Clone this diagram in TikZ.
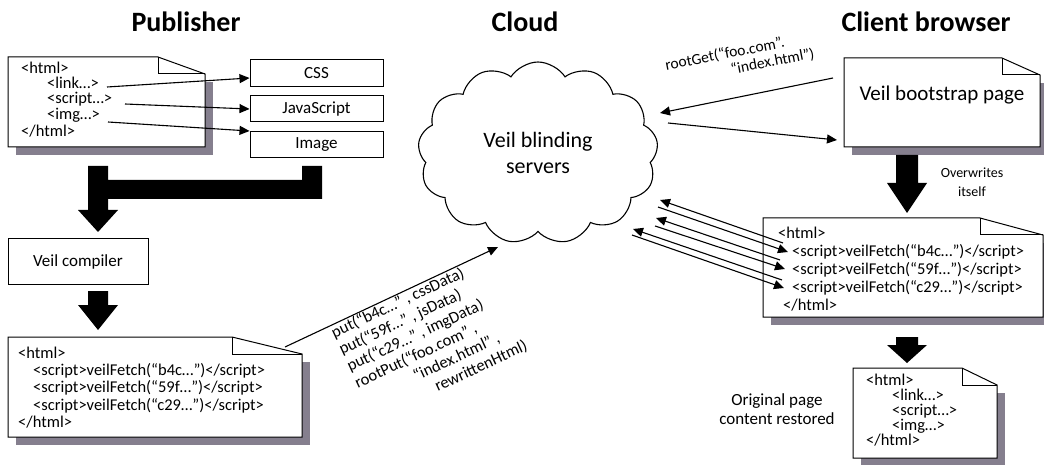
\documentclass[tikz,border=0pt]{standalone}
\usepackage{fontspec}
\setmainfont{Carlito}
\usetikzlibrary{arrows.meta,shapes.symbols}
\definecolor{shadowc}{HTML}{857F8E}
\tikzset{
  docline/.style={draw=black,line width=1pt},
  codetxt/.style={font=\fontsize{16.5}{19}\selectfont,inner sep=0pt,anchor=base west},
  boxtxt/.style={font=\fontsize{17}{20}\selectfont},
  titletxt/.style={font=\fontsize{28}{32}\selectfont\bfseries,inner sep=0pt,anchor=base},
  arr/.style={line width=1.1pt,-{Triangle[length=10pt,width=9pt]}},
  plainbox/.style={draw=black,line width=1pt,inner sep=0pt},
}
\newcommand\docpage[5]{%
  \fill[shadowc] (#1+8,#2+25) rectangle (#3+8,#4+8);
  \filldraw[docline,fill=white] (#1,#2) -- (#3-#5,#2) -- (#3,#2+17) -- (#3,#4) -- (#1,#4) -- cycle;
  \draw[docline] (#3-#5,#2) -- (#3-#5,#2+17) -- (#3,#2+17);
}
\newcommand\fatdown[5]{% xc, ytop, yhead, ytip, shaft half width
  \fill[black] (#1-#5,#2) -- (#1+#5,#2) -- (#1+#5,#3) -- (#1+20,#3) -- (#1,#4) -- (#1-20,#3) -- (#1-#5,#3) -- cycle;
}
\begin{document}
\begin{tikzpicture}[x=1pt,y=-1pt]
\useasboundingbox (0,0) rectangle (1044,465);

% titles
\node[titletxt] (tpub) at (186,32) {Publisher};
\node[titletxt] (tcloud) at (525,32) {Cloud};
\node[titletxt] (tclient) at (926,32) {Client browser};

% ---------- Publisher ----------
\docpage{8}{57}{205}{147}{47}
\node[codetxt] (h1) at (21,74) {<html>};
\node[codetxt] (l1) at (47,89) {<link…>};
\node[codetxt] (s1) at (47,104) {<script…>};
\node[codetxt] (i1) at (47,120) {<img…>};
\node[codetxt] (e1) at (21,137) {</html>};

\node[plainbox,minimum width=133pt,minimum height=27pt,boxtxt] (css) at (316.5,73) {CSS};
\node[plainbox,minimum width=133pt,minimum height=26pt,boxtxt] (js) at (316.5,109) {JavaScript};
\node[plainbox,minimum width=133pt,minimum height=26pt,boxtxt] (img) at (316.5,145) {Image};

\coordinate (l1e) at (107,87);
\coordinate (s1e) at (125,104);
\coordinate (i1e) at (108,122);
\draw[arr] (l1e) -- (css.west |- 0,78);
\draw[arr] (s1e) -- (js.west);
\draw[arr] (i1e) -- (img.west |- 0,131);

% fat U connector and arrow
\fill[black] (88,166) -- (108,166) -- (108,180) -- (302,180) -- (302,166) -- (322,166)
  -- (322,199) -- (108,199) -- (108,210) -- (118,210) -- (98,232) -- (78,210) -- (88,210) -- cycle;

\node[plainbox,minimum width=140pt,minimum height=45pt,boxtxt] (comp) at (78,261.5) {Veil compiler};
\fatdown{98}{291}{305}{330}{10}

\docpage{8}{337}{302}{437}{70}
\node[codetxt] (h2) at (18,358) {<html>};
\node[codetxt] (s2a) at (33,375) {<script>veilFetch(“b4c…”)</script>};
\node[codetxt] (s2b) at (33,392) {<script>veilFetch(“59f…”)</script>};
\node[codetxt] (s2c) at (33,410) {<script>veilFetch(“c29…”)</script>};
\node[codetxt] (e2) at (18,427) {</html>};

% ---------- Cloud ----------
\node[cloud,cloud puffs=13,cloud puff arc=115,aspect=1.3,draw,line width=1.1pt,
  minimum width=240pt,minimum height=182pt,
  align=center,font=\fontsize{22}{26}\selectfont] (cloud) at (538,153) {Veil blinding\\servers};

\coordinate (putA) at (285,347);
\coordinate (putB) at (498,247);
\draw[arr] (putA) -- (putB);
\node[rotate=25,anchor=north west,align=left,inner sep=0pt,
  font=\fontsize{16.5}{18.5}\selectfont] (putlbl) at (329,327)
  {put(“b4c…” , cssData)\\
   put(“59f…” , jsData)\\
   put(“c29…” , imgData)\\
   rootPut(“foo.com” ,\\
   \hspace*{3.4em}“index.html” ,\\
   \hspace*{4.3em}rewrittenHtml)};

% ---------- Client ----------
\docpage{844}{58}{1040}{147}{38}
\node[font=\fontsize{21}{24}\selectfont,inner sep=0pt] (boot) at (942,95) {Veil bootstrap page};

\coordinate (rgA) at (833,78);
\coordinate (rgB) at (660,113);
\coordinate (rrA) at (668,123);
\coordinate (rrB) at (837,140);
\draw[arr] (rgA) -- (rgB);
\draw[arr] (rrA) -- (rrB);
\node[rotate=11,anchor=north west,align=left,inner sep=0pt,
  font=\fontsize{15.5}{16.5}\selectfont] (rglbl) at (664,59)
  {rootGet(“foo.com”.\\ \hspace*{4.1em}“index.html”)};

\fatdown{907}{155}{183}{213}{11}
\node[align=center,inner sep=0pt,font=\fontsize{14}{19}\selectfont] (ovw) at (972,182) {Overwrites\\itself};

\docpage{763}{218}{1043}{317}{63}
\node[codetxt] (h3) at (778,238) {<html>};
\node[codetxt] (s3a) at (792,256) {<script>veilFetch(“b4c…”)</script>};
\node[codetxt] (s3b) at (792,274) {<script>veilFetch(“59f…”)</script>};
\node[codetxt] (s3c) at (792,292) {<script>veilFetch(“c29…”)</script>};
\node[codetxt] (e3) at (783,310) {</html>};

\coordinate (p1a) at (783,243); \coordinate (p1b) at (660,200);
\coordinate (p1c) at (658,207); \coordinate (p1d) at (788,252);
\coordinate (p2a) at (780,260); \coordinate (p2b) at (656,218);
\coordinate (p2c) at (655,226); \coordinate (p2d) at (785,269);
\coordinate (p3a) at (782,280); \coordinate (p3b) at (633,229);
\coordinate (p3c) at (632,235); \coordinate (p3d) at (784,288);
\draw[arr] (p1a) -- (p1b);
\draw[arr] (p1c) -- (p1d);
\draw[arr] (p2a) -- (p2b);
\draw[arr] (p2c) -- (p2d);
\draw[arr] (p3a) -- (p3b);
\draw[arr] (p3c) -- (p3d);

\fatdown{907}{337}{345}{363}{11}

\docpage{853}{368}{997}{458}{35}
\node[codetxt] (h4) at (866,385) {<html>};
\node[codetxt] (l4) at (892,400) {<link…>};
\node[codetxt] (s4) at (892,415) {<script…>};
\node[codetxt] (i4) at (892,430) {<img…>};
\node[codetxt] (e4) at (866,445) {</html>};

\node[align=center,inner sep=0pt,font=\fontsize{17}{19}\selectfont] (orig) at (777,409) {Original page\\content restored};
\end{tikzpicture}
\end{document}
